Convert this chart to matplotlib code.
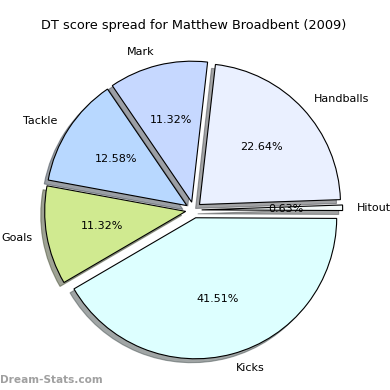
import matplotlib
matplotlib.use("Agg")
import matplotlib.pyplot as plt

categories = ["Kicks", "Hitout", "Handballs", "Mark", "Tackle", "Goals"]
values = [66, 1, 36, 18, 20, 18]
colors = ["#DDFFFF", "#F4FAFA", "#EAF0FF", "#C6D8FF", "#B8D8FF", "#D0EA90"]
explode = [0.057] * 6
title = "DT score spread for Matthew Broadbent (2009)"
watermark = "Dream-Stats.com"

fig = plt.figure(figsize=(3.9, 3.9), dpi=100)
fig.patch.set_facecolor("white")
R = 141 / 390
cx, cy = 193.6 / 390, 1 - 210 / 390
ax = fig.add_axes([cx - 1.25 * R, cy - 1.25 * R, 2.5 * R, 2.5 * R])

wedges, texts, autotexts = ax.pie(
    values, labels=categories, colors=colors, explode=explode,
    startangle=210.3, autopct="%1.2f%%", shadow=True,
    wedgeprops=dict(edgecolor="black", linewidth=0.8),
    textprops=dict(fontsize=8, color="black"),
)
ax.set_xlim(-1.25, 1.25)
ax.set_ylim(-1.25, 1.25)

fig.text(0.497, 1 - 25 / 390, title, ha="center", va="center", fontsize=9.3)
fig.text(0.0, 1 - 380 / 390, watermark, ha="left", va="center", fontsize=7.6,
         fontweight="bold", color="#A0A0A0")

fig.savefig("out.png", dpi=100)
